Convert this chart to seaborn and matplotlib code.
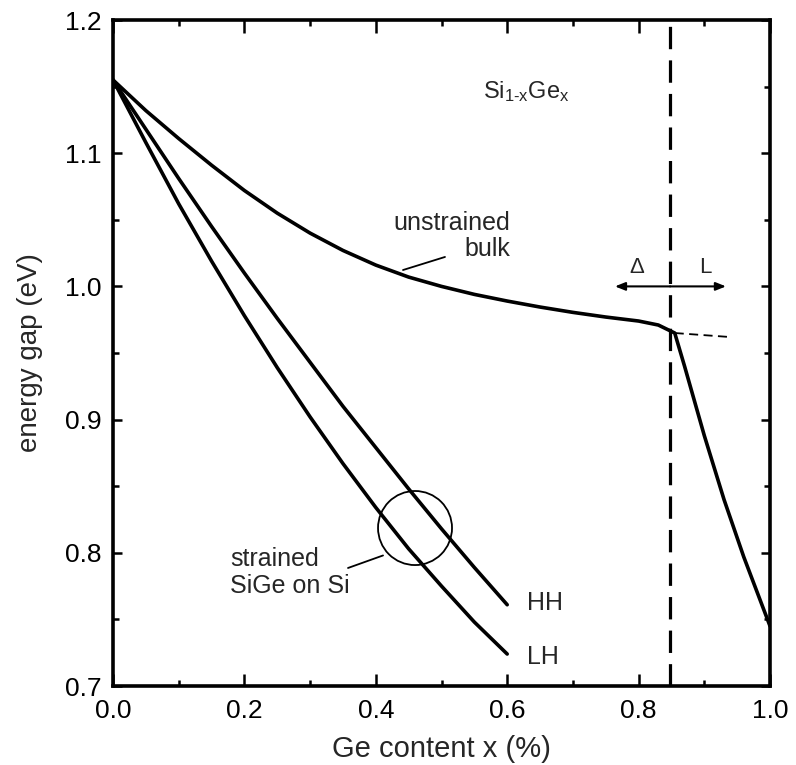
import numpy as np
import pandas as pd
import matplotlib
matplotlib.use("Agg")
import matplotlib.pyplot as plt
import seaborn as sns
from matplotlib.patches import Ellipse
from matplotlib.ticker import MultipleLocator

# ---- data ----
bulk_x = [0.0, 0.05, 0.10, 0.15, 0.20, 0.25, 0.30, 0.35, 0.40, 0.45, 0.50, 0.55, 0.60, 0.65,
          0.70, 0.75, 0.80, 0.83, 0.855, 0.87, 0.90, 0.93, 0.96, 1.0]
bulk_y = [1.155, 1.132, 1.111, 1.091, 1.072, 1.055, 1.040, 1.027, 1.016, 1.007, 1.000, 0.994,
          0.989, 0.9845, 0.9805, 0.977, 0.974, 0.971, 0.965, 0.940, 0.888, 0.840, 0.797, 0.745]

hh_x = [0.0, 0.05, 0.10, 0.15, 0.20, 0.25, 0.30, 0.35, 0.40, 0.45, 0.50, 0.55, 0.60]
hh_y = [1.155, 1.118, 1.081, 1.045, 1.010, 0.976, 0.943, 0.910, 0.879, 0.848, 0.818, 0.789, 0.761]

lh_x = [0.0, 0.05, 0.10, 0.15, 0.20, 0.25, 0.30, 0.35, 0.40, 0.45, 0.50, 0.55, 0.60]
lh_y = [1.155, 1.108, 1.062, 1.019, 0.978, 0.939, 0.902, 0.867, 0.834, 0.803, 0.775, 0.748, 0.724]

ext_x = [0.855, 0.939]
ext_y = [0.965, 0.962]

x_cross = 0.848
xticks = [0.0, 0.2, 0.4, 0.6, 0.8, 1.0]
yticks = [0.7, 0.8, 0.9, 1.0, 1.1, 1.2]

sns.set_theme(style="ticks")
plt.rcParams["font.family"] = ["Liberation Sans", "DejaVu Sans"]
plt.rcParams["mathtext.fontset"] = "custom"
plt.rcParams["mathtext.rm"] = "Liberation Sans"
plt.rcParams["mathtext.it"] = "Liberation Sans:italic"
plt.rcParams["mathtext.default"] = "regular"

fig = plt.figure(figsize=(7.96, 7.65), dpi=100)
ax = fig.add_axes([113/796, 1-686/765, (770-113)/796, (686-20)/765])

df_bulk = pd.DataFrame({"x": bulk_x, "y": bulk_y})
df_hh = pd.DataFrame({"x": hh_x, "y": hh_y})
df_lh = pd.DataFrame({"x": lh_x, "y": lh_y})

lw = 2.6
sns.lineplot(data=df_bulk, x="x", y="y", ax=ax, color="black", lw=lw, sort=False)
sns.lineplot(data=df_hh, x="x", y="y", ax=ax, color="black", lw=lw, sort=False)
sns.lineplot(data=df_lh, x="x", y="y", ax=ax, color="black", lw=lw, sort=False)
ax.plot(ext_x, ext_y, color="black", lw=1.3, dashes=(5, 3))
ax.axvline(x_cross, color="black", lw=2.3, dashes=(7, 3.5))

ax.set_xlim(0, 1.0)
ax.set_ylim(0.7, 1.2)
ax.set_xticks(xticks)
ax.set_yticks(yticks)
ax.set_xticklabels([f"{v:.1f}" for v in xticks])
ax.set_yticklabels([f"{v:.1f}" for v in yticks])
ax.xaxis.set_minor_locator(MultipleLocator(0.1))
ax.yaxis.set_minor_locator(MultipleLocator(0.05))
ax.tick_params(which="both", direction="in", top=True, right=True, width=1.8, colors="black",
               labelsize=19)
ax.tick_params(axis="x", which="major", length=9, pad=9)
ax.tick_params(axis="x", which="minor", length=4.5)
ax.tick_params(axis="y", which="major", length=6.5, pad=8)
ax.tick_params(axis="y", which="minor", length=4)
for s in ax.spines.values():
    s.set_linewidth(2.6)
    s.set_color("black")

ax.set_xlabel("Ge content x (%)", fontsize=21)
ax.xaxis.set_label_coords(0.5, -0.0736)
ax.set_ylabel("energy gap (eV)", fontsize=20, labelpad=16)

# annotations
fs = 18
ax.text(0.6956, 1.146, r"Si$_{1\text{-}x}$Ge$_x$", fontsize=17, ha="right", va="center")
ax.text(0.605, 1.0378, "unstrained\nbulk", fontsize=fs, ha="right", va="center",
        multialignment="right", linespacing=1.15)
ax.plot([0.4414, 0.5053], [1.0123, 1.0221], color="black", lw=1.3)

ax.text(0.178, 0.7852, "strained\nSiGe on Si", fontsize=fs, ha="left", va="center",
        linespacing=1.2)
ax.plot([0.411, 0.3577], [0.798, 0.7886], color="black", lw=1.3)
ax.add_patch(Ellipse((0.4597, 0.8186), 0.1126, 0.0556, fill=False, edgecolor="black", lw=1.3))

ax.text(0.630, 0.762, "HH", fontsize=fs, ha="left", va="center")
ax.text(0.630, 0.722, "LH", fontsize=fs, ha="left", va="center")

ax.annotate("", xy=(0.764, 1.0), xytext=(x_cross, 1.0),
            arrowprops=dict(arrowstyle="-|>,head_length=0.5,head_width=0.2", color="black", lw=1.5,
                            shrinkA=0, shrinkB=0))
ax.annotate("", xy=(0.933, 1.0), xytext=(x_cross, 1.0),
            arrowprops=dict(arrowstyle="-|>,head_length=0.5,head_width=0.2", color="black", lw=1.5,
                            shrinkA=0, shrinkB=0))
ax.text(0.797, 1.014, "Δ", fontsize=16, ha="center", va="center")
ax.text(0.901, 1.014, "L", fontsize=16, ha="center", va="center")

fig.savefig("out.png", dpi=100, facecolor="white")
